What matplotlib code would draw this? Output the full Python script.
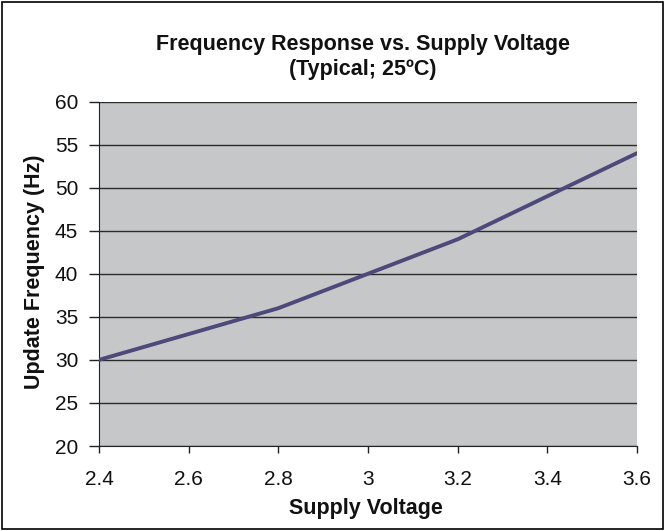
import matplotlib
matplotlib.use("Agg")
import matplotlib.pyplot as plt
from matplotlib.patches import Rectangle

voltage = [2.4, 2.6, 2.8, 3.0, 3.2, 3.4, 3.6]
frequency = [30, 33, 36, 40, 44, 49, 54]
x_ticks = [2.4, 2.6, 2.8, 3.0, 3.2, 3.4, 3.6]
x_tick_labels = ["2.4", "2.6", "2.8", "3", "3.2", "3.4", "3.6"]
y_ticks = [20, 25, 30, 35, 40, 45, 50, 55, 60]

plt.rcParams['font.family'] = ['Liberation Sans', 'DejaVu Sans']

fig = plt.figure(figsize=(6.65, 5.31), dpi=100)
fig.patch.set_facecolor('white')
fig.patches.append(Rectangle((0.003, 0.003), 0.994, 0.994, transform=fig.transFigure,
                             fill=False, edgecolor='black', linewidth=1.2))

L, R, T, B = 99, 637, 101.5, 446
ax = fig.add_axes([L/665, 1-B/531, (R-L)/665, (B-T)/531])
ax.set_facecolor('#C6C7C9')
ax.plot(voltage, frequency, color='#4B4A7A', linewidth=2.8, solid_capstyle='round', zorder=3)

ax.set_xlim(2.4, 3.6)
ax.set_ylim(20, 60)
ax.set_xticks(x_ticks)
ax.set_xticklabels(x_tick_labels)
ax.set_yticks(y_ticks)
ax.yaxis.grid(True, color='#2a2a2a', linewidth=1.0)
ax.set_axisbelow(True)

for s in ['top', 'right']:
    ax.spines[s].set_visible(False)
ax.spines['left'].set_color('#222222')
ax.spines['bottom'].set_color('#222222')

ax.tick_params(axis='y', direction='out', length=7, width=1, labelsize=15, pad=8, colors='#222222', labelcolor='#111111')
ax.tick_params(axis='x', direction='out', length=5, width=1, labelsize=15, pad=12, colors='#222222', labelcolor='#111111')

ax.set_xlabel('Supply Voltage', fontsize=15.5, fontweight='bold', color='#111111')
ax.xaxis.label.set_va('baseline')
ax.xaxis.set_label_coords((366-L)/(R-L), -(514-B)/(B-T))
ax.set_ylabel('Update Frequency (Hz)', fontsize=15.5, fontweight='bold', color='#111111')
ax.yaxis.label.set_va('center')
ax.yaxis.set_label_coords(-(L-35)/(R-L), (B-272)/(B-T))

fig.text(363/665, 1-50/531, 'Frequency Response vs. Supply Voltage', ha='center', va='baseline',
         fontsize=15.5, fontweight='bold', color='#111111')
fig.text(363/665, 1-75/531, '(Typical; 25ºC)', ha='center', va='baseline',
         fontsize=15.5, fontweight='bold', color='#111111')

fig.savefig('out.png', dpi=100, facecolor='white')
